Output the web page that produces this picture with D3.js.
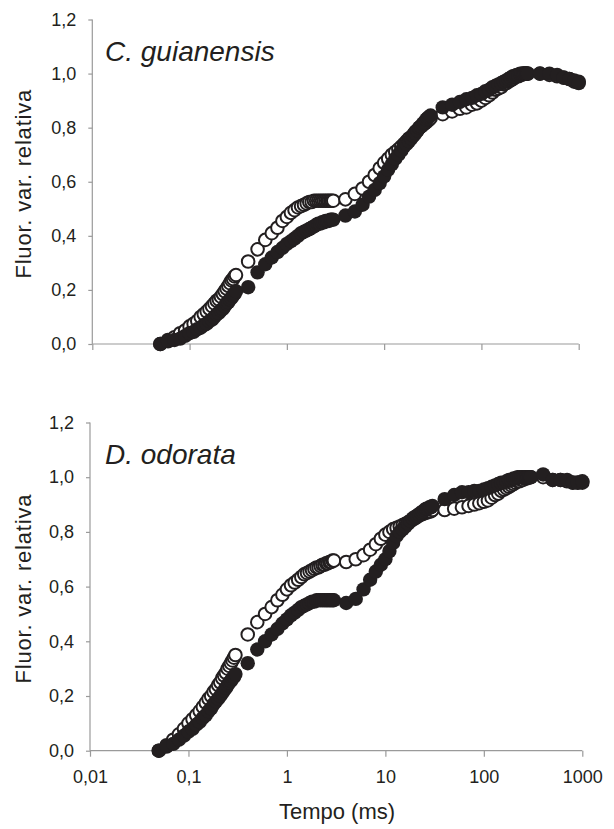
<!DOCTYPE html>
<html>
<head>
<meta charset="utf-8">
<script src="https://cdn.jsdelivr.net/npm/d3@7/dist/d3.min.js"></script>
<style>
  html, body { margin: 0; padding: 0; background: #fff; }
  svg { display: block; font-family: "Liberation Sans", Arial, sans-serif; }
</style>
</head>
<body>
<svg id="chart" width="614" height="829"></svg>
<script>
// Sampling times (ms) of the fluorescence transient
const times = [
  0.05,0.06,0.07,0.08,0.09,0.10,0.11,0.12,0.13,0.14,0.15,0.16,0.17,0.18,0.19,0.20,0.21,0.22,0.23,0.24,0.25,0.26,0.27,0.28,0.29,0.30,
  0.4,0.5,0.6,0.7,0.8,0.9,1.0,1.1,1.2,1.3,1.4,1.5,1.6,1.7,1.8,1.9,2.0,2.1,2.2,2.3,2.4,2.5,2.6,2.7,2.8,2.9,3.0,
  4,5,6,7,8,9,10,11,12,13,14,15,16,17,18,19,20,21,22,23,24,25,26,27,28,29,30,
  40,50,60,70,80,90,100,110,120,130,140,150,160,170,180,190,200,210,220,230,240,250,260,270,280,290,300,
  400,500,600,700,800,900,1000
];

// C. guianensis – filled markers
const guianensisFilled = [
  0.00,0.01,0.015,0.02,0.03,0.04,0.045,0.055,0.06,0.07,0.075,0.085,0.09,0.10,0.11,0.115,0.125,0.13,0.14,0.15,0.155,0.165,0.17,0.18,0.185,0.195,
  0.21,0.265,0.295,0.32,0.34,0.355,0.37,0.38,0.39,0.40,0.41,0.415,0.42,0.425,0.43,0.435,0.44,0.445,0.445,0.45,0.45,0.455,0.455,0.455,0.46,0.46,0.46,
  0.475,0.49,0.515,0.545,0.57,0.595,0.62,0.645,0.665,0.685,0.70,0.715,0.73,0.74,0.75,0.76,0.77,0.78,0.79,0.80,0.805,0.815,0.82,0.83,0.835,0.84,0.845,
  0.875,0.885,0.895,0.905,0.91,0.92,0.925,0.935,0.94,0.95,0.955,0.96,0.965,0.97,0.975,0.98,0.985,0.99,0.99,0.995,0.995,1.0,1.0,1.0,1.0,1.0,1.0,
  1.0,1.0,0.995,0.985,0.98,0.975,0.965
];
// C. guianensis – open markers
const guianensisOpen = [
  0.0,0.015,0.025,0.04,0.05,0.065,0.075,0.085,0.10,0.11,0.12,0.13,0.14,0.15,0.16,0.165,0.175,0.185,0.195,0.205,0.215,0.225,0.235,0.24,0.25,0.255,
  0.305,0.35,0.385,0.41,0.43,0.455,0.47,0.485,0.495,0.505,0.51,0.515,0.52,0.525,0.525,0.53,0.53,0.53,0.53,0.53,0.53,0.53,0.53,0.53,0.53,0.53,0.53,
  0.535,0.555,0.575,0.60,0.625,0.65,0.67,0.685,0.70,0.71,0.72,0.73,0.74,0.75,0.76,0.765,0.775,0.785,0.79,0.80,0.805,0.81,0.815,0.82,0.825,0.83,0.835,
  0.85,0.86,0.87,0.875,0.885,0.89,0.90,0.91,0.92,0.93,0.94,0.945,0.95,0.96,0.965,0.97,0.975,0.98,0.985,0.99,0.99,0.995,0.995,1.0,1.0,1.0,1.0,
  1.0,0.995,0.99,0.985,0.98,0.97,0.97
];
// D. odorata – filled markers
const odorataFilled = [
  0.0,0.015,0.025,0.04,0.055,0.07,0.08,0.095,0.105,0.12,0.13,0.145,0.155,0.17,0.18,0.19,0.20,0.21,0.22,0.23,0.24,0.25,0.255,0.265,0.27,0.28,
  0.32,0.37,0.40,0.425,0.445,0.465,0.48,0.495,0.505,0.515,0.525,0.53,0.535,0.54,0.545,0.545,0.55,0.55,0.55,0.55,0.55,0.55,0.55,0.55,0.55,0.55,0.55,
  0.54,0.555,0.59,0.625,0.655,0.68,0.70,0.73,0.76,0.785,0.80,0.81,0.82,0.83,0.84,0.85,0.855,0.86,0.865,0.87,0.875,0.88,0.885,0.885,0.89,0.89,0.895,
  0.92,0.935,0.945,0.945,0.95,0.95,0.955,0.96,0.965,0.97,0.975,0.98,0.98,0.985,0.99,0.99,0.995,0.995,1.0,1.0,1.0,1.0,1.0,1.0,1.0,1.0,1.0,
  1.01,0.99,0.99,0.99,0.98,0.98,0.985
];
// D. odorata – open markers
const odorataOpen = [
  0.0,0.02,0.04,0.06,0.08,0.10,0.115,0.13,0.145,0.16,0.175,0.19,0.20,0.215,0.225,0.24,0.25,0.265,0.275,0.285,0.30,0.31,0.32,0.33,0.34,0.35,
  0.425,0.47,0.50,0.525,0.55,0.57,0.59,0.605,0.615,0.625,0.635,0.645,0.65,0.655,0.66,0.665,0.67,0.67,0.675,0.68,0.68,0.685,0.685,0.69,0.69,0.695,0.695,
  0.69,0.70,0.715,0.735,0.755,0.775,0.79,0.80,0.81,0.815,0.82,0.825,0.83,0.835,0.84,0.845,0.85,0.855,0.86,0.865,0.865,0.87,0.87,0.875,0.875,0.875,0.88,
  0.88,0.885,0.89,0.895,0.90,0.905,0.91,0.915,0.925,0.935,0.94,0.95,0.955,0.96,0.965,0.97,0.975,0.98,0.985,0.985,0.99,0.99,0.995,0.995,1.0,1.0,1.0,
  1.0,0.99,0.99,0.985,0.98,0.98,0.98
];

// Axis ticks
const xTicks = [0.01, 0.1, 1, 10, 100, 1000];
const xTickLabels = ["0,01", "0,1", "1", "10", "100", "1000"];
const yTicks = [0, 0.2, 0.4, 0.6, 0.8, 1.0, 1.2];

const panels = [
  { title: "C. guianensis", filled: guianensisFilled, open: guianensisOpen,
    x0: 92.3, x1: 578.7, yBottom: 344, yTop: 19.5, xLabels: false },
  { title: "D. odorata", filled: odorataFilled, open: odorataOpen,
    x0: 90, x1: 582.3, yBottom: 750.7, yTop: 422.5, xLabels: true }
];

const ink = "#231f20";
const axisColor = "#9a9a9a";
const svg = d3.select("#chart");

panels.forEach(p => {
  const x = d3.scaleLog().domain([0.01, 1000]).range([p.x0, p.x1]);
  const y = d3.scaleLinear().domain([0, 1.2]).range([p.yBottom, p.yTop]);
  const g = svg.append("g");

  // x axis
  const xAxis = d3.axisBottom(x)
    .tickValues(xTicks)
    .tickSize(6)
    .tickPadding(14)
    .tickFormat((d, i) => p.xLabels ? xTickLabels[i] : "");
  const gx = g.append("g").attr("transform", `translate(0,${p.yBottom})`).call(xAxis);

  // y axis
  const yAxis = d3.axisLeft(y)
    .tickValues(yTicks)
    .tickSize(4)
    .tickPadding(12)
    .tickFormat(d => d3.format(".1f")(d).replace(".", ","));
  const gy = g.append("g").attr("transform", `translate(${p.x0},0)`).call(yAxis);

  [gx, gy].forEach(a => {
    a.select(".domain").attr("stroke", axisColor).attr("stroke-width", 1.2);
    a.selectAll(".tick line").attr("stroke", axisColor).attr("stroke-width", 1.2);
    a.selectAll(".tick text")
      .attr("fill", ink)
      .style("font-size", "18px")
      .style("font-family", "'Liberation Sans', Arial, sans-serif");
  });
  gx.select(".domain").attr("d", `M${p.x0},0H${p.x1}`);
  gy.select(".domain").attr("d", `M0,${p.yBottom}V${p.yTop}`);

  // y axis title
  g.append("text")
    .attr("transform", `translate(31,${(p.yBottom + p.yTop) / 2 + 2}) rotate(-90)`)
    .attr("text-anchor", "middle")
    .attr("fill", ink)
    .style("font-size", "22px")
    .style("letter-spacing", "0.8px")
    .text("Fluor. var. relativa");

  // species name
  g.append("text")
    .attr("x", 105)
    .attr("y", p.yTop + 41)
    .attr("fill", ink)
    .style("font-size", "28px")
    .style("font-style", "italic")
    .text(p.title);

  const pts = s => times.map((t, i) => ({ t, v: s[i] }));

  // open circles underneath, filled series drawn over them
  g.append("g").selectAll("circle").data(pts(p.open)).join("circle")
    .attr("cx", d => x(d.t))
    .attr("cy", d => y(d.v))
    .attr("r", 6.3)
    .attr("fill", "#fff")
    .attr("stroke", ink)
    .attr("stroke-width", 2);

  g.append("g").selectAll("circle").data(pts(p.filled)).join("circle")
    .attr("cx", d => x(d.t))
    .attr("cy", d => y(d.v))
    .attr("r", 7.2)
    .attr("fill", ink);
});

// x axis title
svg.append("text")
  .attr("x", 337)
  .attr("y", 819)
  .attr("text-anchor", "middle")
  .attr("fill", ink)
  .style("font-size", "22px")
  .text("Tempo (ms)");
</script>
</body>
</html>
